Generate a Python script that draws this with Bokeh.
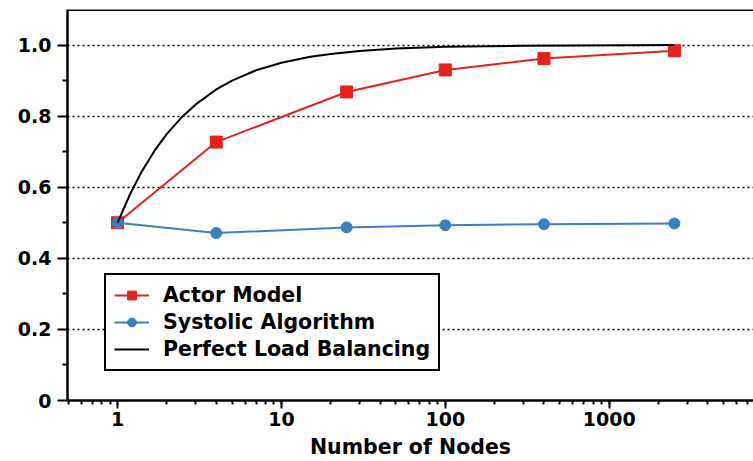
from bokeh.plotting import figure
from bokeh.models import Span, Legend, LegendItem, FixedTicker, LogTicker, CustomJSTickFormatter
from bokeh.embed import file_html
from bokeh.resources import INLINE

nodes = [1, 4, 25, 100, 400, 2500]
actor = [0.5, 0.727, 0.868, 0.930, 0.962, 0.984]
systolic = [0.5, 0.471, 0.487, 0.493, 0.496, 0.498]
perfect_x = [1, 1.2, 1.4, 1.7, 2, 2.5, 3, 4, 5, 7, 10, 15, 20, 30, 50, 100, 300, 2500]
perfect_y = [0.5, 0.583, 0.643, 0.706, 0.75, 0.8, 0.833, 0.875, 0.9, 0.929, 0.95,
             0.967, 0.975, 0.983, 0.99, 0.995, 0.998, 1.0]
y_ticks = [0, 0.2, 0.4, 0.6, 0.8, 1.0]
y_tick_labels = ["0", "0.2", "0.4", "0.6", "0.8", "1.0"]
x_tick_labels = ["1", "10", "100", "1000"]
labels = ["Actor Model", "Systolic Algorithm", "Perfect Load Balancing"]

RED = "#e8211e"
BLUE = "#3a7fbf"
FONT = "DejaVu Sans"

p = figure(width=753, height=461, x_axis_type="log", x_range=(0.495, 7600), y_range=(0, 1.1),
           output_backend="svg", toolbar_location=None,
           min_border_left=67, min_border_right=0, min_border_top=9, min_border_bottom=60)
p.outline_line_color = None
p.background_fill_color = "white"

r1 = p.line(nodes, actor, line_color=RED, line_width=2)
m1 = p.scatter(nodes, actor, marker="square", size=12, fill_color=RED, line_color=RED)
r2 = p.line(nodes, systolic, line_color=BLUE, line_width=2)
m2 = p.scatter(nodes, systolic, marker="circle", size=11, fill_color=BLUE, line_color=BLUE)
r3 = p.line(perfect_x, perfect_y, line_color="black", line_width=2)

p.add_layout(Span(location=1.1, dimension="width", line_color="black", line_width=3))

# grid
p.xgrid.grid_line_color = None
p.ygrid.ticker = FixedTicker(ticks=y_ticks[1:])
p.ygrid.grid_line_color = "black"
p.ygrid.grid_line_dash = "2 3"
p.ygrid.grid_line_width = 1.5

# y axis
ya = p.yaxis[0]
ya.ticker = FixedTicker(ticks=y_ticks, minor_ticks=[0.1, 0.3, 0.5, 0.7, 0.9])
ya.major_label_overrides = {t: l for t, l in zip(y_ticks, y_tick_labels)}
ya.axis_line_width = 2.5
ya.major_tick_line_width = 2
ya.minor_tick_line_width = 2
ya.major_tick_out = 10
ya.major_tick_in = 0
ya.minor_tick_out = 5
ya.minor_tick_in = 0
ya.major_label_text_font = FONT
ya.major_label_text_font_style = "bold"
ya.major_label_text_font_size = "19px"
ya.major_label_text_color = "black"
ya.major_label_standoff = 6

# x axis
xa = p.xaxis[0]
xa.ticker = LogTicker(desired_num_ticks=5, num_minor_ticks=10)
xa.formatter = CustomJSTickFormatter(code="return tick.toFixed(0);")
xa.axis_line_width = 2.5
xa.major_tick_line_width = 2
xa.minor_tick_line_width = 2
xa.major_tick_out = 8
xa.major_tick_in = 0
xa.minor_tick_out = 4
xa.minor_tick_in = 0
xa.major_label_text_font = FONT
xa.major_label_text_font_style = "bold"
xa.major_label_text_font_size = "19px"
xa.major_label_text_color = "black"
xa.major_label_standoff = 3
xa.axis_label = "Number of Nodes"
xa.axis_label_text_font = FONT
xa.axis_label_text_font_style = "bold"
xa.axis_label_text_font_size = "20.5px"
xa.axis_label_text_color = "black"
xa.axis_label_standoff = 6

legend = Legend(items=[
    LegendItem(label=labels[0], renderers=[r1, m1]),
    LegendItem(label=labels[1], renderers=[r2, m2]),
    LegendItem(label=labels[2], renderers=[r3]),
], location=(37, 29))
legend.border_line_color = "black"
legend.border_line_alpha = 1
legend.border_line_width = 2
legend.background_fill_alpha = 1
legend.label_text_font = FONT
legend.label_text_font_style = "bold"
legend.label_text_font_size = "20.5px"
legend.label_text_color = "black"
legend.glyph_width = 35
legend.glyph_height = 22
legend.spacing = 3
legend.padding = 8
legend.margin = 0
legend.label_standoff = 14
p.add_layout(legend, "center")

open("out.html", "w").write(file_html(p, INLINE))
